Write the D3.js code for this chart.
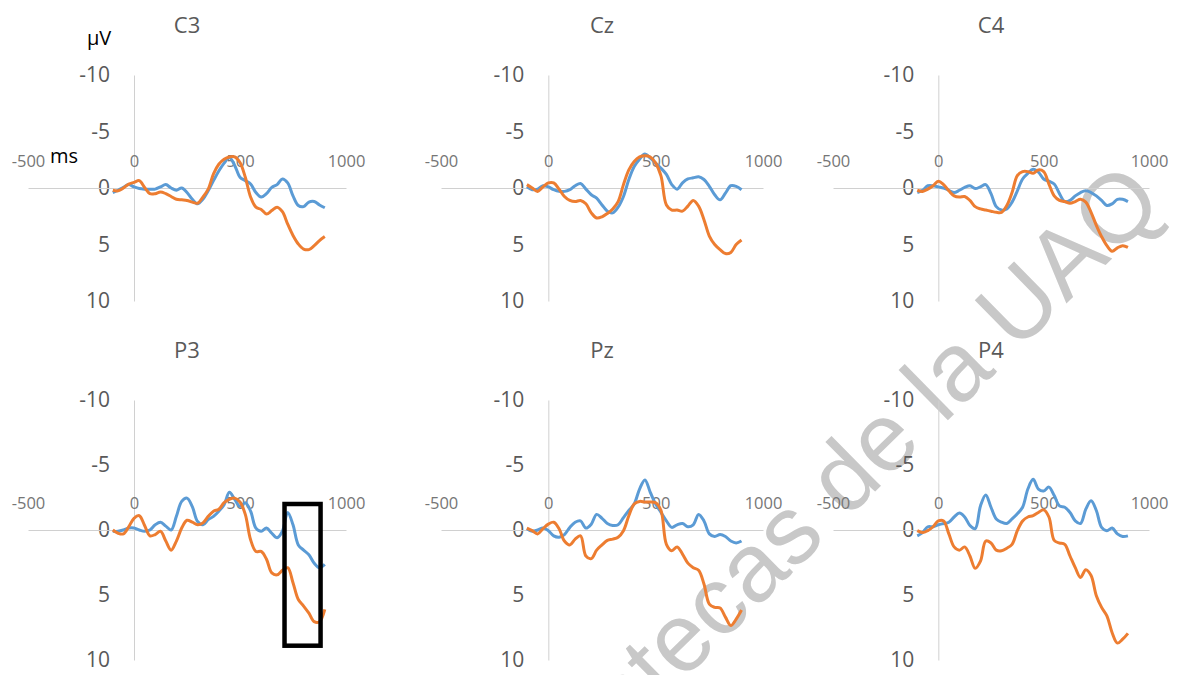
<!DOCTYPE html>
<meta charset="utf-8">
<style>
body { margin: 0; background: #fff; }
svg { font-family: "Open Sans", sans-serif; }
.axis path { stroke: #d0d0d0; stroke-width: 1px; }
.axis--y text { font-size: 21px; fill: #595959; }
.axis--x text { font-size: 16.5px; fill: #767676; }
.title { font-size: 22px; fill: #595959; text-anchor: middle; }
.unit { font-size: 20px; fill: #000; }
.line { fill: none; stroke-width: 3px; stroke-linejoin: round; }
.watermark { font-family: "Liberation Sans", sans-serif; font-size: 97px; fill: #c8c8c8; text-anchor: middle; }
</style>
<svg width="1186" height="675"></svg>
<script src="https://d3js.org/d3.v7.min.js"></script>
<script>

var times = [-100,-75,-50,-25,0,25,50,75,100,125,150,175,200,225,250,275,300,325,350,375,
             400,425,450,475,500,525,550,575,600,625,650,675,700,725,750,775,800,825,850,875,900];

var xTicks = [-500, 0, 500, 1000];
var yTicks = [-10, -5, 0, 5, 10];

var c3A = [0.4,0.2,-0.05,-0.3,-0.1,0.05,0.1,0.1,0.1,-0.1,-0.3,0,0.2,0,0.4,1.0,1.4,1.0,0.25,-0.65,
           -1.5,-2.2,-2.7,-2.0,-0.95,-0.65,-0.35,0.4,0.8,0.5,-0.05,-0.3,-0.8,-0.45,0.7,1.55,1.65,1.25,1.2,1.5,1.75];
var c3B = [0.2,0.25,0,-0.35,-0.5,-0.65,-0.05,0.5,0.5,0.35,0.5,0.75,1.0,1.05,1.1,1.25,1.35,0.8,0.1,-1.25,
           -2.1,-2.55,-2.75,-2.75,-2.25,-0.95,0.8,1.7,1.9,2.3,2.0,1.7,2.1,3.2,4.2,4.95,5.4,5.45,5.1,4.65,4.3];

var czA = [-0.1,0.15,0.1,-0.2,-0.1,0.15,0.3,0.3,0.15,-0.2,-0.4,0.1,0.6,0.9,1.5,2.05,2.2,1.7,0.75,-0.75,
           -1.9,-2.55,-3.0,-2.65,-2.2,-1.75,-1.2,-0.3,0.1,-0.45,-0.8,-0.9,-1.0,-0.75,-0.15,0.6,1.05,0.45,-0.2,-0.15,0.15];
var czB = [-0.3,0,0.3,-0.1,-0.45,-0.45,0.1,0.75,1.1,1.2,1.1,1.4,2.2,2.65,2.55,2.25,1.85,1.2,-0.3,-1.6,
           -2.35,-2.75,-2.85,-2.75,-2.2,-1.05,1.5,1.95,1.95,2.05,1.6,1.1,1.6,2.8,4.25,5.0,5.45,5.8,5.7,5.0,4.6];

var c4A = [0.4,0.2,-0.2,-0.2,-0.1,0,0.2,0.4,0.2,-0.05,-0.2,0.05,-0.1,-0.3,0.5,1.65,1.95,1.85,1.25,0.25,
           -0.8,-1.3,-1.65,-1.4,-0.8,-0.6,-0.35,0.5,1.2,1.1,0.7,0.4,0.25,0.4,0.7,1.1,1.55,1.4,1.0,1.0,1.2];
var c4B = [0.2,0.3,0.1,-0.2,-0.6,-0.3,0.25,0.7,0.8,0.75,1.1,1.65,1.85,1.95,2.05,2.15,2.15,1.55,0.4,-1.1,
           -1.45,-1.45,-1.3,-1.6,-1.45,-0.35,0.7,1.1,1.2,1.35,1.2,1.0,1.25,2.15,3.3,4.3,5.1,5.6,5.3,5.1,5.25];

var p3A = [0.1,0.1,0,-0.15,-0.15,0,0.1,0,-0.4,-0.6,-0.3,0,-1.05,-2.2,-2.45,-1.8,-0.65,-0.4,-0.8,-1.05,
           -1.45,-1.95,-2.9,-2.35,-1.8,-2.1,-1.45,-0.15,0.1,-0.15,0.25,0.6,0.1,-1.35,-0.4,1.15,1.55,1.9,2.55,2.9,2.65];
var p3B = [0,0.25,0.3,-0.25,-0.9,-1.1,-0.35,0.45,0.35,0.1,0.85,1.55,0.85,-0.15,-0.75,-0.6,-0.4,-0.55,-1.05,-1.45,
           -1.6,-2.1,-2.35,-2.45,-2.15,-1.2,0.75,1.65,1.65,2.25,3.3,3.45,3.1,2.9,4.05,5.35,5.85,6.4,7.05,7.05,6.1];

var pzA = [-0.1,0.1,0,-0.15,0.05,0.45,0.55,0.35,-0.2,-0.6,-0.7,-0.15,-0.45,-1.2,-0.9,-0.5,-0.35,-0.4,-0.95,-1.5,
           -2.0,-3.15,-3.85,-2.9,-2.0,-1.35,-0.7,-0.2,-0.4,-0.5,-0.25,-0.4,-1.2,-0.7,0.3,0.5,0.35,0.5,0.85,1.0,0.85];
var pzB = [-0.15,0.05,0.3,-0.1,-0.45,-0.6,-0.1,0.85,1.15,0.7,0.45,2.0,2.2,1.55,1.15,0.8,0.7,0.55,0.05,-1.1,
           -2.0,-2.2,-2.15,-2.15,-2.1,-1.5,1.1,1.6,1.3,1.85,2.55,2.9,3.1,4.15,5.7,5.95,6.0,6.7,7.35,6.85,6.15];

var p4A = [0.45,0.2,-0.25,-0.25,-0.4,-0.5,-0.6,-1.0,-1.3,-1.0,-0.35,-0.1,-1.85,-2.7,-1.75,-0.85,-0.6,-0.5,-0.85,-1.25,
           -1.75,-3.15,-3.9,-3.15,-3.0,-3.3,-2.65,-1.85,-1.75,-1.35,-0.7,-0.5,-1.6,-2.25,-1.5,-0.2,0.05,-0.15,0.3,0.5,0.45];
var p4B = [0.05,0.2,0.05,-0.25,-0.7,-0.7,0.3,1.3,1.55,1.3,2.0,2.95,2.4,0.85,1.0,1.55,1.6,1.4,1.1,0.05,
           -0.7,-1.0,-1.1,-1.35,-1.55,-1.0,0.8,1.0,1.1,2.0,2.9,3.65,3.05,3.5,5.05,5.95,6.6,7.9,8.7,8.4,7.95];

// highlighted window in P3 (ms, µV)
var boxTimes = [710, 880];
var boxVolts = [-2.0, 8.9];

var panels = [
  {name: "C3", a: c3A, b: c3B, col: 0, row: 0},
  {name: "Cz", a: czA, b: czB, col: 1, row: 0},
  {name: "C4", a: c4A, b: c4B, col: 2, row: 0},
  {name: "P3", a: p3A, b: p3B, col: 0, row: 1},
  {name: "Pz", a: pzA, b: pzB, col: 1, row: 1},
  {name: "P4", a: p4A, b: p4B, col: 2, row: 1}
];

var cols = [[28, 346], [441, 763], [833, 1149]],
    rows = [{top: 75, bottom: 301, title: 33}, {top: 400, bottom: 660, title: 358}],
    colorA = "#5b9bd5",
    colorB = "#ed7d31";

var svg = d3.select("svg");

svg.append("text")
    .attr("class", "watermark")
    .attr("transform", "translate(806,512) rotate(-44.5)")
    .attr("dy", "0.35em")
    .text("Bibliotecas de la UAQ");

function plainText(s) {
  s.attr("font-family", null).attr("font-size", null);
  s.selectAll("text").attr("fill", null);
}

panels.forEach(function(p) {
  var x = d3.scaleLinear().domain([-500, 1000]).range(cols[p.col]),
      y = d3.scaleLinear().domain([-10, 10]).range([rows[p.row].top, rows[p.row].bottom]),
      g = svg.append("g");

  g.append("text")
      .attr("class", "title")
      .attr("x", (cols[p.col][0] + cols[p.col][1]) / 2)
      .attr("y", rows[p.row].title)
      .text(p.name);

  g.append("g")
      .attr("class", "axis axis--y")
      .attr("transform", "translate(" + x(0) + ",0)")
      .call(d3.axisLeft(y).tickValues(yTicks).tickSize(0).tickPadding(24)
        .tickFormat(function(d) { return String(d); }))
      .call(plainText);

  g.append("g")
      .attr("class", "axis axis--x")
      .attr("transform", "translate(0," + y(0) + ")")
      .call(d3.axisTop(x).tickValues(xTicks).tickSize(0).tickPadding(21)
        .tickFormat(function(d) { return String(d); }))
      .call(plainText);

  var line = d3.line()
      .x(function(d, i) { return x(times[i]); })
      .y(function(d) { return y(d); })
      .curve(d3.curveCatmullRom.alpha(0.5));

  g.append("path").datum(p.a).attr("class", "line").attr("stroke", colorA).attr("d", line);
  g.append("path").datum(p.b).attr("class", "line").attr("stroke", colorB).attr("d", line);

  if (p.name === "C3") {
    g.append("text").attr("class", "unit").attr("x", 87).attr("y", 45).text("μV");
    g.append("text").attr("class", "unit").attr("x", 50).attr("y", 163).text("ms");
  }

  if (p.name === "P3") {
    g.append("rect")
        .attr("x", x(boxTimes[0]))
        .attr("y", y(boxVolts[0]))
        .attr("width", x(boxTimes[1]) - x(boxTimes[0]))
        .attr("height", y(boxVolts[1]) - y(boxVolts[0]))
        .attr("fill", "none")
        .attr("stroke", "#000")
        .attr("stroke-width", 4.5);
  }
});

</script>
